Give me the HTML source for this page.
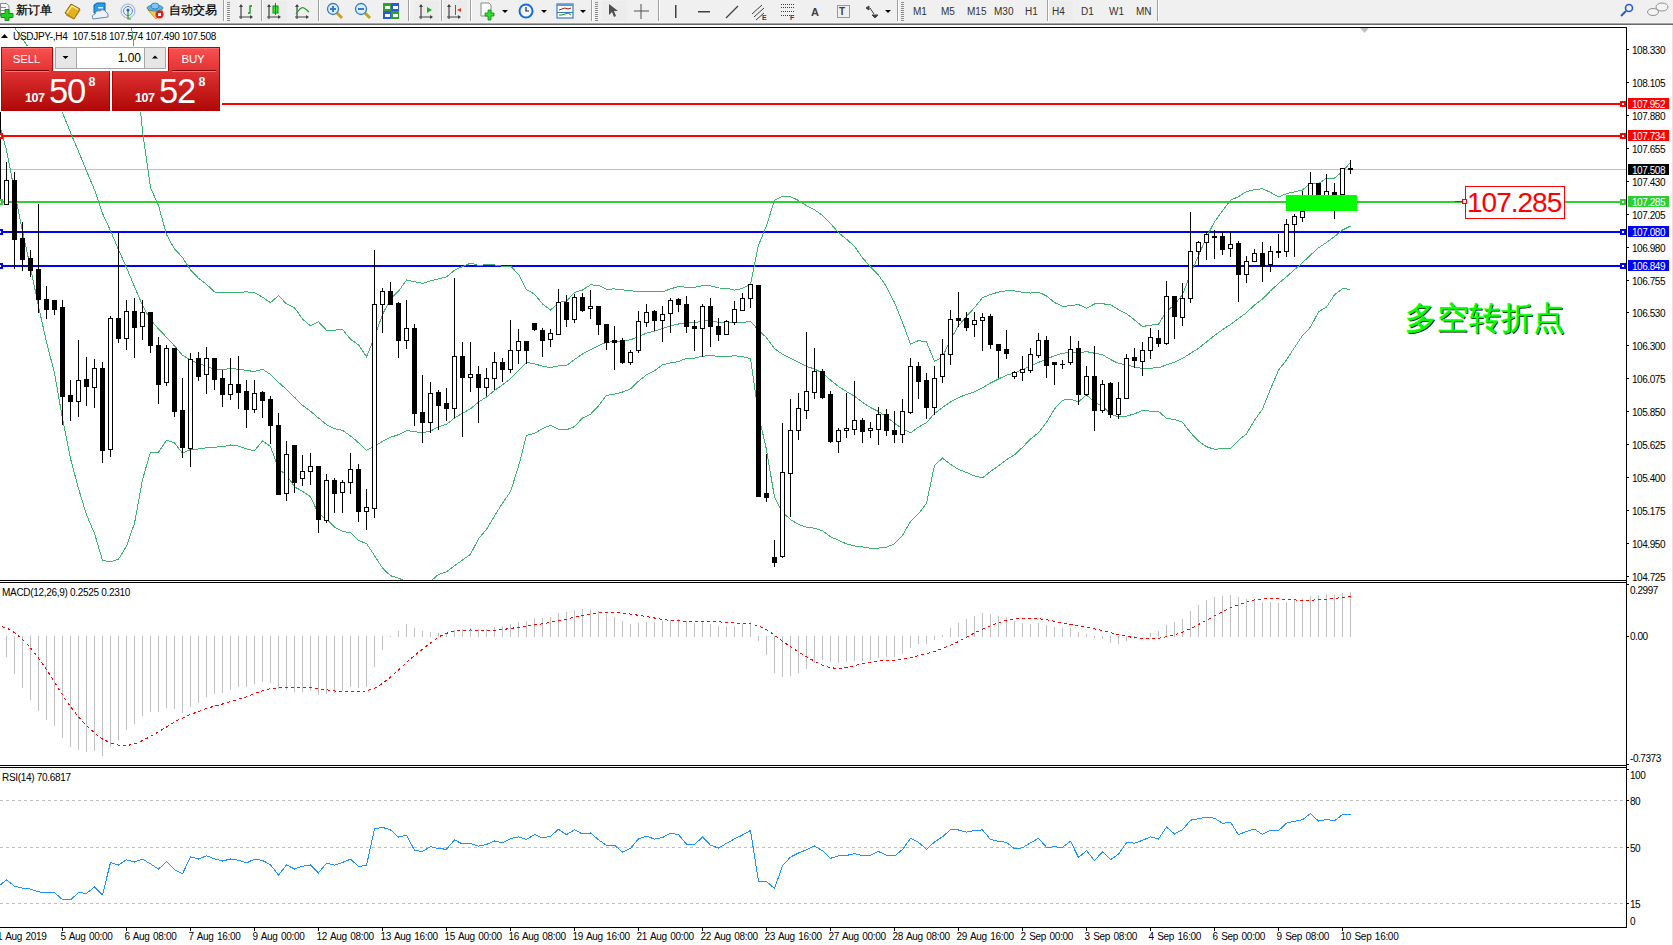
<!DOCTYPE html><html><head><meta charset="utf-8"><style>
html,body{margin:0;padding:0;width:1673px;height:945px;overflow:hidden;background:#fff;}
body{position:relative;font-family:"Liberation Sans",sans-serif;}
.a{position:absolute;white-space:nowrap;line-height:1;}
</style></head><body>

<svg width="1673" height="945" viewBox="0 0 1673 945" style="position:absolute;left:0;top:0" shape-rendering="crispEdges">
<rect x="1672" y="24" width="1" height="921" fill="#e4e4e4"/>
<rect x="0" y="27" width="1627" height="1" fill="#000"/>
<rect x="1626" y="27" width="1" height="901" fill="#000"/>
<rect x="0" y="580" width="1627" height="1" fill="#000"/>
<rect x="0" y="582" width="1627" height="1" fill="#000"/>
<rect x="0" y="765" width="1627" height="1" fill="#000"/>
<rect x="0" y="767" width="1627" height="1" fill="#000"/>
<rect x="0" y="927" width="1627" height="1" fill="#000"/>
<defs><clipPath id="cm"><rect x="0" y="28" width="1626" height="552"/></clipPath><clipPath id="cd"><rect x="0" y="583" width="1626" height="182"/></clipPath><clipPath id="cr"><rect x="0" y="768" width="1626" height="159"/></clipPath></defs>
<rect x="1627" y="49" width="2" height="1" fill="#000"/>
<rect x="1627" y="82" width="2" height="1" fill="#000"/>
<rect x="1627" y="115" width="2" height="1" fill="#000"/>
<rect x="1627" y="148" width="2" height="1" fill="#000"/>
<rect x="1627" y="181" width="2" height="1" fill="#000"/>
<rect x="1627" y="214" width="2" height="1" fill="#000"/>
<rect x="1627" y="247" width="2" height="1" fill="#000"/>
<rect x="1627" y="280" width="2" height="1" fill="#000"/>
<rect x="1627" y="312" width="2" height="1" fill="#000"/>
<rect x="1627" y="345" width="2" height="1" fill="#000"/>
<rect x="1627" y="378" width="2" height="1" fill="#000"/>
<rect x="1627" y="411" width="2" height="1" fill="#000"/>
<rect x="1627" y="444" width="2" height="1" fill="#000"/>
<rect x="1627" y="477" width="2" height="1" fill="#000"/>
<rect x="1627" y="510" width="2" height="1" fill="#000"/>
<rect x="1627" y="543" width="2" height="1" fill="#000"/>
<rect x="1627" y="576" width="2" height="1" fill="#000"/>
<rect x="1627" y="584" width="2" height="1" fill="#000"/>
<rect x="1627" y="636" width="2" height="1" fill="#000"/>
<rect x="1627" y="764" width="2" height="1" fill="#000"/>
<rect x="1627" y="769" width="2" height="1" fill="#000"/>
<rect x="1627" y="800" width="2" height="1" fill="#000"/>
<rect x="1627" y="847" width="2" height="1" fill="#000"/>
<rect x="1627" y="903" width="2" height="1" fill="#000"/>
<g clip-path="url(#cm)">
<rect x="0" y="169" width="1626" height="1" fill="#c0c0c0"/>
<rect x="0" y="103" width="1626" height="2" fill="#ff0000"/>
<rect x="0" y="135" width="1626" height="2" fill="#ff0000"/>
<rect x="0" y="201" width="1626" height="2" fill="#32cd32"/>
<rect x="0" y="231" width="1626" height="2" fill="#0000ff"/>
<rect x="0" y="265" width="1626" height="2" fill="#0000ff"/>
<polyline points="-9.5,3.8 -1.5,10.9 6.5,17.7 14.5,27.6 22.5,38.8 30.5,50.8 38.5,64.5 46.5,78.9 54.5,93.5 62.5,112.8 70.5,132.5 78.5,151.4 86.5,170.8 94.5,189.8 102.5,213.4 110.5,230.8 118.5,249.6 126.5,267.6 134.5,286.7 142.5,305.4 150.5,319.8 158.5,328.9 166.5,337.3 174.5,345.9 182.5,355.3 190.5,359.8 198.5,363.6 206.5,366.0 214.5,369.5 222.5,369.5 230.5,368.6 238.5,369.2 246.5,370.4 254.5,371.6 262.5,369.1 270.5,374.5 278.5,382.3 286.5,389.5 294.5,397.2 302.5,405.2 310.5,411.2 318.5,418.0 326.5,424.6 334.5,428.7 342.5,430.4 350.5,435.9 358.5,442.7 366.5,450.2 374.5,446.4 382.5,441.3 390.5,437.3 398.5,434.7 406.5,430.6 414.5,431.6 422.5,432.7 430.5,431.1 438.5,426.7 446.5,424.4 454.5,418.0 462.5,413.3 470.5,408.7 478.5,402.1 486.5,397.0 494.5,390.5 502.5,384.8 510.5,378.8 518.5,370.4 526.5,362.5 534.5,363.8 542.5,366.2 550.5,367.7 558.5,365.8 566.5,365.4 574.5,359.6 582.5,354.0 590.5,349.6 598.5,345.6 606.5,342.3 614.5,341.6 622.5,340.9 630.5,339.8 638.5,336.5 646.5,333.2 654.5,331.1 662.5,328.4 670.5,325.9 678.5,324.0 686.5,322.8 694.5,322.7 702.5,321.0 710.5,320.7 718.5,322.2 726.5,322.4 734.5,323.0 742.5,322.4 750.5,321.4 758.5,330.0 766.5,337.7 774.5,348.7 782.5,354.2 790.5,358.1 798.5,362.4 806.5,366.4 814.5,369.0 822.5,373.1 830.5,380.1 838.5,386.5 846.5,391.5 854.5,396.2 862.5,402.4 870.5,407.5 878.5,411.5 886.5,416.9 894.5,423.2 902.5,428.8 910.5,432.9 918.5,427.1 926.5,422.6 934.5,413.4 942.5,407.5 950.5,402.0 958.5,397.6 966.5,394.4 974.5,391.8 982.5,387.8 990.5,383.0 998.5,379.0 1006.5,375.2 1014.5,372.9 1022.5,369.8 1030.5,366.1 1038.5,362.4 1046.5,359.2 1054.5,355.7 1062.5,353.3 1070.5,352.5 1078.5,353.2 1086.5,351.6 1094.5,353.2 1102.5,354.7 1110.5,359.5 1118.5,363.4 1126.5,364.9 1134.5,366.9 1142.5,368.5 1150.5,368.1 1158.5,367.8 1166.5,364.9 1174.5,362.1 1182.5,358.5 1190.5,353.3 1198.5,348.4 1206.5,341.9 1214.5,335.5 1222.5,329.7 1230.5,324.5 1238.5,318.5 1246.5,312.7 1254.5,304.9 1262.5,299.0 1270.5,290.8 1278.5,283.5 1286.5,276.8 1294.5,269.7 1302.5,262.7 1310.5,255.0 1318.5,247.8 1326.5,242.6 1334.5,236.5 1342.5,230.0 1350.5,226.0" fill="none" stroke="#3cb371" stroke-width="1" shape-rendering="crispEdges"/>
<polyline points="-9.5,-68.3 -1.5,-99.6 6.5,-114.7 14.5,-136.1 22.5,-153.5 30.5,-166.1 38.5,-177.4 46.5,-184.2 54.5,-186.0 62.5,-193.1 70.5,-193.6 78.5,-185.8 86.5,-173.2 94.5,-153.7 102.5,-133.6 110.5,-100.2 118.5,-60.0 126.5,-11.0 134.5,50.0 142.5,131.1 150.5,187.5 158.5,205.5 166.5,234.5 174.5,248.9 182.5,257.4 190.5,270.0 198.5,278.2 206.5,284.3 214.5,292.0 222.5,292.1 230.5,292.2 238.5,292.3 246.5,291.9 254.5,292.5 262.5,297.2 270.5,302.7 278.5,295.6 286.5,303.9 294.5,307.7 302.5,319.0 310.5,325.9 318.5,321.7 326.5,330.3 334.5,330.1 342.5,329.4 350.5,339.2 358.5,344.9 366.5,356.8 374.5,337.2 382.5,314.5 390.5,298.9 398.5,291.2 406.5,280.0 414.5,281.7 422.5,283.4 430.5,280.9 438.5,278.9 446.5,276.9 454.5,270.2 462.5,266.6 470.5,263.1 478.5,265.4 486.5,264.7 494.5,265.0 502.5,266.3 510.5,266.1 518.5,274.3 526.5,289.6 534.5,294.1 542.5,303.9 550.5,310.1 558.5,302.6 566.5,301.0 574.5,292.5 582.5,290.0 590.5,284.9 598.5,285.3 606.5,289.3 614.5,288.9 622.5,289.8 630.5,290.7 638.5,291.8 646.5,291.6 654.5,291.3 662.5,291.9 670.5,288.9 678.5,286.5 686.5,287.3 694.5,287.3 702.5,285.8 710.5,285.8 718.5,288.0 726.5,288.1 734.5,290.2 742.5,288.4 750.5,284.1 758.5,245.1 766.5,225.8 774.5,200.1 782.5,196.1 790.5,196.6 798.5,200.5 806.5,205.7 814.5,209.7 822.5,215.4 830.5,223.6 838.5,232.6 846.5,239.2 854.5,246.3 862.5,257.8 870.5,266.8 878.5,275.0 886.5,286.7 894.5,302.6 902.5,322.4 910.5,344.1 918.5,340.6 926.5,341.9 934.5,361.5 942.5,356.9 950.5,339.6 958.5,325.8 966.5,316.2 974.5,307.7 982.5,297.7 990.5,294.5 998.5,292.1 1006.5,290.7 1014.5,290.9 1022.5,292.2 1030.5,293.1 1038.5,292.1 1046.5,296.0 1054.5,302.5 1062.5,306.3 1070.5,305.8 1078.5,304.5 1086.5,308.2 1094.5,304.0 1102.5,303.7 1110.5,304.9 1118.5,309.6 1126.5,313.7 1134.5,319.9 1142.5,326.5 1150.5,325.2 1158.5,324.2 1166.5,311.5 1174.5,304.7 1182.5,294.7 1190.5,274.1 1198.5,255.6 1206.5,237.1 1214.5,221.8 1222.5,210.9 1230.5,200.3 1238.5,196.7 1246.5,191.5 1254.5,189.7 1262.5,188.7 1270.5,192.4 1278.5,196.9 1286.5,193.7 1294.5,191.8 1302.5,190.0 1310.5,182.9 1318.5,183.8 1326.5,178.1 1334.5,178.1 1342.5,171.5 1350.5,162.5" fill="none" stroke="#3cb371" stroke-width="1" shape-rendering="crispEdges"/>
<polyline points="-9.5,76.0 -1.5,121.4 6.5,150.0 14.5,191.4 22.5,231.1 30.5,267.8 38.5,306.3 46.5,342.0 54.5,373.1 62.5,418.6 70.5,458.6 78.5,488.5 86.5,514.9 94.5,533.4 102.5,560.4 110.5,561.8 118.5,559.2 126.5,546.1 134.5,523.3 142.5,479.7 150.5,452.1 158.5,452.3 166.5,440.1 174.5,442.9 182.5,453.2 190.5,449.5 198.5,449.0 206.5,447.8 214.5,447.1 222.5,446.8 230.5,445.0 238.5,446.1 246.5,448.9 254.5,450.7 262.5,441.0 270.5,446.3 278.5,469.0 286.5,475.0 294.5,486.8 302.5,491.3 310.5,496.6 318.5,514.2 326.5,518.8 334.5,527.2 342.5,531.4 350.5,532.7 358.5,540.5 366.5,543.5 374.5,555.6 382.5,568.1 390.5,575.7 398.5,578.2 406.5,581.3 414.5,581.5 422.5,582.0 430.5,581.4 438.5,574.4 446.5,571.8 454.5,565.8 462.5,560.0 470.5,554.3 478.5,538.9 486.5,529.3 494.5,515.9 502.5,503.3 510.5,491.6 518.5,466.4 526.5,435.5 534.5,433.4 542.5,428.6 550.5,425.3 558.5,429.1 566.5,429.8 574.5,426.6 582.5,418.0 590.5,414.3 598.5,405.8 606.5,395.3 614.5,394.2 622.5,392.0 630.5,388.9 638.5,381.2 646.5,374.8 654.5,370.9 662.5,364.8 670.5,362.9 678.5,361.5 686.5,358.3 694.5,358.2 702.5,356.2 710.5,355.5 718.5,356.5 726.5,356.6 734.5,355.8 742.5,356.5 750.5,358.6 758.5,414.8 766.5,449.6 774.5,497.3 782.5,512.2 790.5,519.5 798.5,524.4 806.5,527.1 814.5,528.2 822.5,530.7 830.5,536.7 838.5,540.3 846.5,543.9 854.5,546.0 862.5,547.0 870.5,548.2 878.5,548.1 886.5,547.2 894.5,543.8 902.5,535.3 910.5,521.7 918.5,513.7 926.5,503.3 934.5,465.3 942.5,458.1 950.5,464.4 958.5,469.4 966.5,472.5 974.5,475.9 982.5,477.9 990.5,471.5 998.5,465.8 1006.5,459.7 1014.5,454.8 1022.5,447.3 1030.5,439.1 1038.5,432.7 1046.5,422.3 1054.5,408.9 1062.5,400.3 1070.5,399.1 1078.5,401.8 1086.5,394.9 1094.5,402.4 1102.5,405.7 1110.5,414.0 1118.5,417.1 1126.5,416.1 1134.5,413.9 1142.5,410.5 1150.5,411.1 1158.5,411.4 1166.5,418.3 1174.5,419.5 1182.5,422.3 1190.5,432.6 1198.5,441.2 1206.5,446.7 1214.5,449.3 1222.5,448.6 1230.5,448.7 1238.5,440.2 1246.5,433.9 1254.5,420.1 1262.5,409.2 1270.5,389.2 1278.5,370.1 1286.5,359.9 1294.5,347.5 1302.5,335.5 1310.5,327.2 1318.5,311.8 1326.5,307.0 1334.5,294.9 1342.5,288.6 1350.5,289.4" fill="none" stroke="#3cb371" stroke-width="1" shape-rendering="crispEdges"/>
<rect x="-2" y="112" width="1" height="91" fill="#000"/>
<rect x="-4" y="112" width="5" height="91" fill="#000"/>
<rect x="6" y="162" width="1" height="43" fill="#000"/>
<rect x="4" y="180" width="5" height="25" fill="#000"/>
<rect x="5" y="181" width="3" height="23" fill="#fff"/>
<rect x="14" y="172" width="1" height="97" fill="#000"/>
<rect x="12" y="180" width="5" height="60" fill="#000"/>
<rect x="22" y="222" width="1" height="49" fill="#000"/>
<rect x="20" y="238" width="5" height="22" fill="#000"/>
<rect x="30" y="250" width="1" height="27" fill="#000"/>
<rect x="28" y="258" width="5" height="13" fill="#000"/>
<rect x="38" y="204" width="1" height="109" fill="#000"/>
<rect x="36" y="269" width="5" height="31" fill="#000"/>
<rect x="46" y="286" width="1" height="33" fill="#000"/>
<rect x="44" y="299" width="5" height="11" fill="#000"/>
<rect x="54" y="300" width="1" height="15" fill="#000"/>
<rect x="52" y="300" width="5" height="10" fill="#000"/>
<rect x="62" y="300" width="1" height="125" fill="#000"/>
<rect x="60" y="307" width="5" height="90" fill="#000"/>
<rect x="70" y="380" width="1" height="41" fill="#000"/>
<rect x="68" y="395" width="5" height="7" fill="#000"/>
<rect x="78" y="340" width="1" height="77" fill="#000"/>
<rect x="76" y="380" width="5" height="22" fill="#000"/>
<rect x="77" y="381" width="3" height="20" fill="#fff"/>
<rect x="86" y="357" width="1" height="49" fill="#000"/>
<rect x="84" y="379" width="5" height="8" fill="#000"/>
<rect x="94" y="359" width="1" height="49" fill="#000"/>
<rect x="92" y="368" width="5" height="20" fill="#000"/>
<rect x="93" y="369" width="3" height="18" fill="#fff"/>
<rect x="102" y="362" width="1" height="101" fill="#000"/>
<rect x="100" y="368" width="5" height="83" fill="#000"/>
<rect x="110" y="316" width="1" height="141" fill="#000"/>
<rect x="108" y="318" width="5" height="132" fill="#000"/>
<rect x="109" y="319" width="3" height="130" fill="#fff"/>
<rect x="118" y="233" width="1" height="110" fill="#000"/>
<rect x="116" y="318" width="5" height="21" fill="#000"/>
<rect x="126" y="300" width="1" height="50" fill="#000"/>
<rect x="124" y="311" width="5" height="28" fill="#000"/>
<rect x="125" y="312" width="3" height="26" fill="#fff"/>
<rect x="134" y="298" width="1" height="60" fill="#000"/>
<rect x="132" y="311" width="5" height="17" fill="#000"/>
<rect x="142" y="300" width="1" height="40" fill="#000"/>
<rect x="140" y="312" width="5" height="15" fill="#000"/>
<rect x="141" y="313" width="3" height="13" fill="#fff"/>
<rect x="150" y="312" width="1" height="41" fill="#000"/>
<rect x="148" y="312" width="5" height="34" fill="#000"/>
<rect x="158" y="337" width="1" height="67" fill="#000"/>
<rect x="156" y="345" width="5" height="40" fill="#000"/>
<rect x="166" y="345" width="1" height="41" fill="#000"/>
<rect x="164" y="348" width="5" height="35" fill="#000"/>
<rect x="165" y="349" width="3" height="33" fill="#fff"/>
<rect x="174" y="348" width="1" height="69" fill="#000"/>
<rect x="172" y="348" width="5" height="64" fill="#000"/>
<rect x="182" y="378" width="1" height="80" fill="#000"/>
<rect x="180" y="410" width="5" height="38" fill="#000"/>
<rect x="190" y="353" width="1" height="114" fill="#000"/>
<rect x="188" y="359" width="5" height="90" fill="#000"/>
<rect x="189" y="360" width="3" height="88" fill="#fff"/>
<rect x="198" y="352" width="1" height="29" fill="#000"/>
<rect x="196" y="358" width="5" height="19" fill="#000"/>
<rect x="206" y="347" width="1" height="47" fill="#000"/>
<rect x="204" y="358" width="5" height="17" fill="#000"/>
<rect x="205" y="359" width="3" height="15" fill="#fff"/>
<rect x="214" y="358" width="1" height="32" fill="#000"/>
<rect x="212" y="358" width="5" height="22" fill="#000"/>
<rect x="222" y="370" width="1" height="37" fill="#000"/>
<rect x="220" y="378" width="5" height="17" fill="#000"/>
<rect x="230" y="358" width="1" height="42" fill="#000"/>
<rect x="228" y="384" width="5" height="11" fill="#000"/>
<rect x="229" y="385" width="3" height="9" fill="#fff"/>
<rect x="238" y="356" width="1" height="53" fill="#000"/>
<rect x="236" y="384" width="5" height="9" fill="#000"/>
<rect x="246" y="380" width="1" height="48" fill="#000"/>
<rect x="244" y="391" width="5" height="19" fill="#000"/>
<rect x="254" y="380" width="1" height="33" fill="#000"/>
<rect x="252" y="393" width="5" height="17" fill="#000"/>
<rect x="253" y="394" width="3" height="15" fill="#fff"/>
<rect x="262" y="391" width="1" height="27" fill="#000"/>
<rect x="260" y="392" width="5" height="9" fill="#000"/>
<rect x="270" y="396" width="1" height="48" fill="#000"/>
<rect x="268" y="399" width="5" height="27" fill="#000"/>
<rect x="278" y="413" width="1" height="82" fill="#000"/>
<rect x="276" y="425" width="5" height="70" fill="#000"/>
<rect x="286" y="441" width="1" height="60" fill="#000"/>
<rect x="284" y="454" width="5" height="40" fill="#000"/>
<rect x="285" y="455" width="3" height="38" fill="#fff"/>
<rect x="294" y="445" width="1" height="48" fill="#000"/>
<rect x="292" y="445" width="5" height="38" fill="#000"/>
<rect x="302" y="455" width="1" height="31" fill="#000"/>
<rect x="300" y="471" width="5" height="8" fill="#000"/>
<rect x="301" y="472" width="3" height="6" fill="#fff"/>
<rect x="310" y="453" width="1" height="32" fill="#000"/>
<rect x="308" y="466" width="5" height="6" fill="#000"/>
<rect x="309" y="467" width="3" height="4" fill="#fff"/>
<rect x="318" y="466" width="1" height="67" fill="#000"/>
<rect x="316" y="466" width="5" height="54" fill="#000"/>
<rect x="326" y="474" width="1" height="49" fill="#000"/>
<rect x="324" y="480" width="5" height="41" fill="#000"/>
<rect x="325" y="481" width="3" height="39" fill="#fff"/>
<rect x="334" y="478" width="1" height="35" fill="#000"/>
<rect x="332" y="480" width="5" height="14" fill="#000"/>
<rect x="342" y="480" width="1" height="33" fill="#000"/>
<rect x="340" y="482" width="5" height="11" fill="#000"/>
<rect x="341" y="483" width="3" height="9" fill="#fff"/>
<rect x="350" y="453" width="1" height="41" fill="#000"/>
<rect x="348" y="469" width="5" height="14" fill="#000"/>
<rect x="349" y="470" width="3" height="12" fill="#fff"/>
<rect x="358" y="464" width="1" height="58" fill="#000"/>
<rect x="356" y="469" width="5" height="43" fill="#000"/>
<rect x="366" y="489" width="1" height="41" fill="#000"/>
<rect x="364" y="507" width="5" height="5" fill="#000"/>
<rect x="365" y="508" width="3" height="3" fill="#fff"/>
<rect x="374" y="250" width="1" height="268" fill="#000"/>
<rect x="372" y="304" width="5" height="205" fill="#000"/>
<rect x="373" y="305" width="3" height="203" fill="#fff"/>
<rect x="382" y="288" width="1" height="45" fill="#000"/>
<rect x="380" y="291" width="5" height="14" fill="#000"/>
<rect x="381" y="292" width="3" height="12" fill="#fff"/>
<rect x="390" y="282" width="1" height="23" fill="#000"/>
<rect x="388" y="291" width="5" height="14" fill="#000"/>
<rect x="398" y="302" width="1" height="56" fill="#000"/>
<rect x="396" y="303" width="5" height="38" fill="#000"/>
<rect x="406" y="300" width="1" height="49" fill="#000"/>
<rect x="404" y="328" width="5" height="13" fill="#000"/>
<rect x="405" y="329" width="3" height="11" fill="#fff"/>
<rect x="414" y="324" width="1" height="102" fill="#000"/>
<rect x="412" y="328" width="5" height="86" fill="#000"/>
<rect x="422" y="375" width="1" height="68" fill="#000"/>
<rect x="420" y="412" width="5" height="11" fill="#000"/>
<rect x="430" y="382" width="1" height="51" fill="#000"/>
<rect x="428" y="393" width="5" height="30" fill="#000"/>
<rect x="429" y="394" width="3" height="28" fill="#fff"/>
<rect x="438" y="390" width="1" height="40" fill="#000"/>
<rect x="436" y="392" width="5" height="14" fill="#000"/>
<rect x="446" y="388" width="1" height="33" fill="#000"/>
<rect x="444" y="403" width="5" height="6" fill="#000"/>
<rect x="454" y="278" width="1" height="140" fill="#000"/>
<rect x="452" y="356" width="5" height="53" fill="#000"/>
<rect x="453" y="357" width="3" height="51" fill="#fff"/>
<rect x="462" y="342" width="1" height="95" fill="#000"/>
<rect x="460" y="356" width="5" height="22" fill="#000"/>
<rect x="470" y="342" width="1" height="50" fill="#000"/>
<rect x="468" y="374" width="5" height="4" fill="#000"/>
<rect x="469" y="375" width="3" height="2" fill="#fff"/>
<rect x="478" y="366" width="1" height="57" fill="#000"/>
<rect x="476" y="374" width="5" height="14" fill="#000"/>
<rect x="486" y="368" width="1" height="28" fill="#000"/>
<rect x="484" y="378" width="5" height="10" fill="#000"/>
<rect x="485" y="379" width="3" height="8" fill="#fff"/>
<rect x="494" y="352" width="1" height="38" fill="#000"/>
<rect x="492" y="362" width="5" height="17" fill="#000"/>
<rect x="493" y="363" width="3" height="15" fill="#fff"/>
<rect x="502" y="358" width="1" height="24" fill="#000"/>
<rect x="500" y="362" width="5" height="8" fill="#000"/>
<rect x="510" y="320" width="1" height="53" fill="#000"/>
<rect x="508" y="350" width="5" height="20" fill="#000"/>
<rect x="509" y="351" width="3" height="18" fill="#fff"/>
<rect x="518" y="329" width="1" height="35" fill="#000"/>
<rect x="516" y="341" width="5" height="10" fill="#000"/>
<rect x="517" y="342" width="3" height="8" fill="#fff"/>
<rect x="526" y="341" width="1" height="23" fill="#000"/>
<rect x="524" y="341" width="5" height="10" fill="#000"/>
<rect x="534" y="323" width="1" height="8" fill="#000"/>
<rect x="532" y="323" width="5" height="7" fill="#000"/>
<rect x="542" y="328" width="1" height="29" fill="#000"/>
<rect x="540" y="330" width="5" height="11" fill="#000"/>
<rect x="550" y="329" width="1" height="18" fill="#000"/>
<rect x="548" y="333" width="5" height="7" fill="#000"/>
<rect x="549" y="334" width="3" height="5" fill="#fff"/>
<rect x="558" y="289" width="1" height="46" fill="#000"/>
<rect x="556" y="302" width="5" height="33" fill="#000"/>
<rect x="557" y="303" width="3" height="31" fill="#fff"/>
<rect x="566" y="295" width="1" height="32" fill="#000"/>
<rect x="564" y="302" width="5" height="18" fill="#000"/>
<rect x="574" y="294" width="1" height="29" fill="#000"/>
<rect x="572" y="297" width="5" height="23" fill="#000"/>
<rect x="573" y="298" width="3" height="21" fill="#fff"/>
<rect x="582" y="293" width="1" height="19" fill="#000"/>
<rect x="580" y="297" width="5" height="14" fill="#000"/>
<rect x="590" y="290" width="1" height="29" fill="#000"/>
<rect x="588" y="306" width="5" height="3" fill="#000"/>
<rect x="589" y="307" width="3" height="1" fill="#fff"/>
<rect x="598" y="306" width="1" height="29" fill="#000"/>
<rect x="596" y="306" width="5" height="19" fill="#000"/>
<rect x="606" y="324" width="1" height="26" fill="#000"/>
<rect x="604" y="324" width="5" height="19" fill="#000"/>
<rect x="614" y="326" width="1" height="44" fill="#000"/>
<rect x="612" y="340" width="5" height="3" fill="#000"/>
<rect x="622" y="338" width="1" height="26" fill="#000"/>
<rect x="620" y="340" width="5" height="23" fill="#000"/>
<rect x="630" y="350" width="1" height="15" fill="#000"/>
<rect x="628" y="352" width="5" height="11" fill="#000"/>
<rect x="629" y="353" width="3" height="9" fill="#fff"/>
<rect x="638" y="311" width="1" height="42" fill="#000"/>
<rect x="636" y="321" width="5" height="30" fill="#000"/>
<rect x="637" y="322" width="3" height="28" fill="#fff"/>
<rect x="646" y="304" width="1" height="23" fill="#000"/>
<rect x="644" y="312" width="5" height="11" fill="#000"/>
<rect x="645" y="313" width="3" height="9" fill="#fff"/>
<rect x="654" y="310" width="1" height="21" fill="#000"/>
<rect x="652" y="311" width="5" height="10" fill="#000"/>
<rect x="662" y="306" width="1" height="36" fill="#000"/>
<rect x="660" y="314" width="5" height="7" fill="#000"/>
<rect x="661" y="315" width="3" height="5" fill="#fff"/>
<rect x="670" y="298" width="1" height="35" fill="#000"/>
<rect x="668" y="300" width="5" height="14" fill="#000"/>
<rect x="669" y="301" width="3" height="12" fill="#fff"/>
<rect x="678" y="298" width="1" height="14" fill="#000"/>
<rect x="676" y="299" width="5" height="6" fill="#000"/>
<rect x="686" y="296" width="1" height="37" fill="#000"/>
<rect x="684" y="304" width="5" height="23" fill="#000"/>
<rect x="694" y="320" width="1" height="31" fill="#000"/>
<rect x="692" y="326" width="5" height="3" fill="#000"/>
<rect x="702" y="304" width="1" height="53" fill="#000"/>
<rect x="700" y="306" width="5" height="23" fill="#000"/>
<rect x="701" y="307" width="3" height="21" fill="#fff"/>
<rect x="710" y="298" width="1" height="49" fill="#000"/>
<rect x="708" y="306" width="5" height="21" fill="#000"/>
<rect x="718" y="318" width="1" height="23" fill="#000"/>
<rect x="716" y="326" width="5" height="9" fill="#000"/>
<rect x="726" y="320" width="1" height="15" fill="#000"/>
<rect x="724" y="321" width="5" height="14" fill="#000"/>
<rect x="725" y="322" width="3" height="12" fill="#fff"/>
<rect x="734" y="301" width="1" height="24" fill="#000"/>
<rect x="732" y="309" width="5" height="14" fill="#000"/>
<rect x="733" y="310" width="3" height="12" fill="#fff"/>
<rect x="742" y="293" width="1" height="18" fill="#000"/>
<rect x="740" y="298" width="5" height="13" fill="#000"/>
<rect x="741" y="299" width="3" height="11" fill="#fff"/>
<rect x="750" y="284" width="1" height="24" fill="#000"/>
<rect x="748" y="284" width="5" height="15" fill="#000"/>
<rect x="749" y="285" width="3" height="13" fill="#fff"/>
<rect x="758" y="285" width="1" height="212" fill="#000"/>
<rect x="756" y="285" width="5" height="212" fill="#000"/>
<rect x="766" y="454" width="1" height="48" fill="#000"/>
<rect x="764" y="493" width="5" height="5" fill="#000"/>
<rect x="774" y="540" width="1" height="27" fill="#000"/>
<rect x="772" y="557" width="5" height="6" fill="#000"/>
<rect x="782" y="423" width="1" height="135" fill="#000"/>
<rect x="780" y="472" width="5" height="85" fill="#000"/>
<rect x="781" y="473" width="3" height="83" fill="#fff"/>
<rect x="790" y="399" width="1" height="118" fill="#000"/>
<rect x="788" y="430" width="5" height="44" fill="#000"/>
<rect x="789" y="431" width="3" height="42" fill="#fff"/>
<rect x="798" y="393" width="1" height="47" fill="#000"/>
<rect x="796" y="408" width="5" height="23" fill="#000"/>
<rect x="797" y="409" width="3" height="21" fill="#fff"/>
<rect x="806" y="332" width="1" height="87" fill="#000"/>
<rect x="804" y="391" width="5" height="20" fill="#000"/>
<rect x="805" y="392" width="3" height="18" fill="#fff"/>
<rect x="814" y="348" width="1" height="51" fill="#000"/>
<rect x="812" y="371" width="5" height="22" fill="#000"/>
<rect x="813" y="372" width="3" height="20" fill="#fff"/>
<rect x="822" y="369" width="1" height="30" fill="#000"/>
<rect x="820" y="371" width="5" height="27" fill="#000"/>
<rect x="830" y="391" width="1" height="52" fill="#000"/>
<rect x="828" y="394" width="5" height="48" fill="#000"/>
<rect x="838" y="428" width="1" height="25" fill="#000"/>
<rect x="836" y="430" width="5" height="12" fill="#000"/>
<rect x="837" y="431" width="3" height="10" fill="#fff"/>
<rect x="846" y="393" width="1" height="45" fill="#000"/>
<rect x="844" y="428" width="5" height="3" fill="#000"/>
<rect x="845" y="429" width="3" height="1" fill="#fff"/>
<rect x="854" y="381" width="1" height="54" fill="#000"/>
<rect x="852" y="420" width="5" height="10" fill="#000"/>
<rect x="853" y="421" width="3" height="8" fill="#fff"/>
<rect x="862" y="418" width="1" height="25" fill="#000"/>
<rect x="860" y="420" width="5" height="12" fill="#000"/>
<rect x="870" y="422" width="1" height="16" fill="#000"/>
<rect x="868" y="428" width="5" height="3" fill="#000"/>
<rect x="869" y="429" width="3" height="1" fill="#fff"/>
<rect x="878" y="407" width="1" height="38" fill="#000"/>
<rect x="876" y="414" width="5" height="16" fill="#000"/>
<rect x="877" y="415" width="3" height="14" fill="#fff"/>
<rect x="886" y="409" width="1" height="27" fill="#000"/>
<rect x="884" y="414" width="5" height="17" fill="#000"/>
<rect x="894" y="411" width="1" height="32" fill="#000"/>
<rect x="892" y="430" width="5" height="5" fill="#000"/>
<rect x="902" y="399" width="1" height="44" fill="#000"/>
<rect x="900" y="411" width="5" height="24" fill="#000"/>
<rect x="901" y="412" width="3" height="22" fill="#fff"/>
<rect x="910" y="358" width="1" height="56" fill="#000"/>
<rect x="908" y="366" width="5" height="47" fill="#000"/>
<rect x="909" y="367" width="3" height="45" fill="#fff"/>
<rect x="918" y="362" width="1" height="37" fill="#000"/>
<rect x="916" y="366" width="5" height="16" fill="#000"/>
<rect x="926" y="373" width="1" height="46" fill="#000"/>
<rect x="924" y="380" width="5" height="28" fill="#000"/>
<rect x="934" y="366" width="1" height="49" fill="#000"/>
<rect x="932" y="378" width="5" height="30" fill="#000"/>
<rect x="933" y="379" width="3" height="28" fill="#fff"/>
<rect x="942" y="339" width="1" height="44" fill="#000"/>
<rect x="940" y="354" width="5" height="23" fill="#000"/>
<rect x="941" y="355" width="3" height="21" fill="#fff"/>
<rect x="950" y="310" width="1" height="55" fill="#000"/>
<rect x="948" y="319" width="5" height="36" fill="#000"/>
<rect x="949" y="320" width="3" height="34" fill="#fff"/>
<rect x="958" y="292" width="1" height="35" fill="#000"/>
<rect x="956" y="318" width="5" height="3" fill="#000"/>
<rect x="966" y="312" width="1" height="19" fill="#000"/>
<rect x="964" y="318" width="5" height="10" fill="#000"/>
<rect x="974" y="312" width="1" height="25" fill="#000"/>
<rect x="972" y="320" width="5" height="5" fill="#000"/>
<rect x="973" y="321" width="3" height="3" fill="#fff"/>
<rect x="982" y="313" width="1" height="38" fill="#000"/>
<rect x="980" y="317" width="5" height="4" fill="#000"/>
<rect x="981" y="318" width="3" height="2" fill="#fff"/>
<rect x="990" y="314" width="1" height="35" fill="#000"/>
<rect x="988" y="316" width="5" height="29" fill="#000"/>
<rect x="998" y="344" width="1" height="34" fill="#000"/>
<rect x="996" y="344" width="5" height="7" fill="#000"/>
<rect x="1006" y="330" width="1" height="29" fill="#000"/>
<rect x="1004" y="349" width="5" height="5" fill="#000"/>
<rect x="1014" y="371" width="1" height="8" fill="#000"/>
<rect x="1012" y="372" width="5" height="5" fill="#000"/>
<rect x="1013" y="373" width="3" height="3" fill="#fff"/>
<rect x="1022" y="356" width="1" height="25" fill="#000"/>
<rect x="1020" y="369" width="5" height="4" fill="#000"/>
<rect x="1021" y="370" width="3" height="2" fill="#fff"/>
<rect x="1030" y="348" width="1" height="25" fill="#000"/>
<rect x="1028" y="354" width="5" height="17" fill="#000"/>
<rect x="1029" y="355" width="3" height="15" fill="#fff"/>
<rect x="1038" y="333" width="1" height="25" fill="#000"/>
<rect x="1036" y="340" width="5" height="16" fill="#000"/>
<rect x="1037" y="341" width="3" height="14" fill="#fff"/>
<rect x="1046" y="336" width="1" height="42" fill="#000"/>
<rect x="1044" y="340" width="5" height="26" fill="#000"/>
<rect x="1054" y="362" width="1" height="23" fill="#000"/>
<rect x="1052" y="362" width="5" height="3" fill="#000"/>
<rect x="1062" y="360" width="1" height="9" fill="#000"/>
<rect x="1060" y="364" width="5" height="1" fill="#000"/>
<rect x="1070" y="336" width="1" height="29" fill="#000"/>
<rect x="1068" y="349" width="5" height="14" fill="#000"/>
<rect x="1069" y="350" width="3" height="12" fill="#fff"/>
<rect x="1078" y="341" width="1" height="64" fill="#000"/>
<rect x="1076" y="348" width="5" height="47" fill="#000"/>
<rect x="1086" y="366" width="1" height="30" fill="#000"/>
<rect x="1084" y="376" width="5" height="19" fill="#000"/>
<rect x="1085" y="377" width="3" height="17" fill="#fff"/>
<rect x="1094" y="346" width="1" height="85" fill="#000"/>
<rect x="1092" y="376" width="5" height="35" fill="#000"/>
<rect x="1102" y="380" width="1" height="33" fill="#000"/>
<rect x="1100" y="384" width="5" height="27" fill="#000"/>
<rect x="1101" y="385" width="3" height="25" fill="#fff"/>
<rect x="1110" y="382" width="1" height="36" fill="#000"/>
<rect x="1108" y="383" width="5" height="32" fill="#000"/>
<rect x="1118" y="382" width="1" height="37" fill="#000"/>
<rect x="1116" y="398" width="5" height="17" fill="#000"/>
<rect x="1117" y="399" width="3" height="15" fill="#fff"/>
<rect x="1126" y="354" width="1" height="45" fill="#000"/>
<rect x="1124" y="358" width="5" height="41" fill="#000"/>
<rect x="1125" y="359" width="3" height="39" fill="#fff"/>
<rect x="1134" y="348" width="1" height="20" fill="#000"/>
<rect x="1132" y="357" width="5" height="4" fill="#000"/>
<rect x="1142" y="342" width="1" height="34" fill="#000"/>
<rect x="1140" y="350" width="5" height="12" fill="#000"/>
<rect x="1141" y="351" width="3" height="10" fill="#fff"/>
<rect x="1150" y="328" width="1" height="31" fill="#000"/>
<rect x="1148" y="337" width="5" height="14" fill="#000"/>
<rect x="1149" y="338" width="3" height="12" fill="#fff"/>
<rect x="1158" y="330" width="1" height="17" fill="#000"/>
<rect x="1156" y="338" width="5" height="6" fill="#000"/>
<rect x="1166" y="281" width="1" height="64" fill="#000"/>
<rect x="1164" y="296" width="5" height="48" fill="#000"/>
<rect x="1165" y="297" width="3" height="46" fill="#fff"/>
<rect x="1174" y="296" width="1" height="43" fill="#000"/>
<rect x="1172" y="296" width="5" height="21" fill="#000"/>
<rect x="1182" y="283" width="1" height="43" fill="#000"/>
<rect x="1180" y="298" width="5" height="20" fill="#000"/>
<rect x="1181" y="299" width="3" height="18" fill="#fff"/>
<rect x="1190" y="212" width="1" height="91" fill="#000"/>
<rect x="1188" y="251" width="5" height="48" fill="#000"/>
<rect x="1189" y="252" width="3" height="46" fill="#fff"/>
<rect x="1198" y="241" width="1" height="24" fill="#000"/>
<rect x="1196" y="242" width="5" height="10" fill="#000"/>
<rect x="1197" y="243" width="3" height="8" fill="#fff"/>
<rect x="1206" y="231" width="1" height="29" fill="#000"/>
<rect x="1204" y="234" width="5" height="9" fill="#000"/>
<rect x="1205" y="235" width="3" height="7" fill="#fff"/>
<rect x="1214" y="230" width="1" height="29" fill="#000"/>
<rect x="1212" y="236" width="5" height="2" fill="#000"/>
<rect x="1222" y="232" width="1" height="23" fill="#000"/>
<rect x="1220" y="236" width="5" height="14" fill="#000"/>
<rect x="1230" y="232" width="1" height="25" fill="#000"/>
<rect x="1228" y="244" width="5" height="5" fill="#000"/>
<rect x="1229" y="245" width="3" height="3" fill="#fff"/>
<rect x="1238" y="241" width="1" height="61" fill="#000"/>
<rect x="1236" y="243" width="5" height="32" fill="#000"/>
<rect x="1246" y="256" width="1" height="27" fill="#000"/>
<rect x="1244" y="261" width="5" height="14" fill="#000"/>
<rect x="1245" y="262" width="3" height="12" fill="#fff"/>
<rect x="1254" y="249" width="1" height="13" fill="#000"/>
<rect x="1252" y="253" width="5" height="9" fill="#000"/>
<rect x="1253" y="254" width="3" height="7" fill="#fff"/>
<rect x="1262" y="242" width="1" height="40" fill="#000"/>
<rect x="1260" y="253" width="5" height="14" fill="#000"/>
<rect x="1270" y="246" width="1" height="26" fill="#000"/>
<rect x="1268" y="251" width="5" height="14" fill="#000"/>
<rect x="1269" y="252" width="3" height="12" fill="#fff"/>
<rect x="1278" y="234" width="1" height="24" fill="#000"/>
<rect x="1276" y="251" width="5" height="2" fill="#000"/>
<rect x="1286" y="219" width="1" height="38" fill="#000"/>
<rect x="1284" y="224" width="5" height="28" fill="#000"/>
<rect x="1285" y="225" width="3" height="26" fill="#fff"/>
<rect x="1294" y="214" width="1" height="43" fill="#000"/>
<rect x="1292" y="216" width="5" height="9" fill="#000"/>
<rect x="1293" y="217" width="3" height="7" fill="#fff"/>
<rect x="1302" y="191" width="1" height="31" fill="#000"/>
<rect x="1300" y="211" width="5" height="7" fill="#000"/>
<rect x="1301" y="212" width="3" height="5" fill="#fff"/>
<rect x="1310" y="172" width="1" height="38" fill="#000"/>
<rect x="1308" y="183" width="5" height="27" fill="#000"/>
<rect x="1309" y="184" width="3" height="25" fill="#fff"/>
<rect x="1318" y="183" width="1" height="18" fill="#000"/>
<rect x="1316" y="183" width="5" height="16" fill="#000"/>
<rect x="1326" y="174" width="1" height="32" fill="#000"/>
<rect x="1324" y="191" width="5" height="8" fill="#000"/>
<rect x="1325" y="192" width="3" height="6" fill="#fff"/>
<rect x="1334" y="183" width="1" height="36" fill="#000"/>
<rect x="1332" y="192" width="5" height="3" fill="#000"/>
<rect x="1342" y="168" width="1" height="33" fill="#000"/>
<rect x="1340" y="168" width="5" height="27" fill="#000"/>
<rect x="1341" y="169" width="3" height="25" fill="#fff"/>
<rect x="1350" y="160" width="1" height="14" fill="#000"/>
<rect x="1348" y="168" width="5" height="2" fill="#000"/>
<rect x="1286" y="195" width="71" height="16" fill="#00ff00"/>
<rect x="1465.5" y="186.5" width="99" height="32" fill="#fff" stroke="#ff0000" stroke-width="1"/>
<rect x="1455" y="201" width="8" height="1" fill="#ff0000"/><rect x="1462" y="199" width="4" height="4" fill="#fff" stroke="#ff0000" stroke-width="1"/>
<rect x="-3" y="101" width="6" height="6" fill="#ff0000"/><rect x="-1" y="103" width="2" height="2" fill="#fff"/>
<rect x="-3" y="133" width="6" height="6" fill="#ff0000"/><rect x="-1" y="135" width="2" height="2" fill="#fff"/>
<rect x="-3" y="199" width="6" height="6" fill="#32cd32"/><rect x="-1" y="201" width="2" height="2" fill="#fff"/>
<rect x="-3" y="229" width="6" height="6" fill="#0000ff"/><rect x="-1" y="231" width="2" height="2" fill="#fff"/>
<rect x="-3" y="263" width="6" height="6" fill="#0000ff"/><rect x="-1" y="265" width="2" height="2" fill="#fff"/>
</g>
<rect x="1620" y="101" width="6" height="6" fill="#ff0000"/><rect x="1622" y="103" width="2" height="2" fill="#fff"/>
<rect x="1620" y="133" width="6" height="6" fill="#ff0000"/><rect x="1622" y="135" width="2" height="2" fill="#fff"/>
<rect x="1620" y="199" width="6" height="6" fill="#32cd32"/><rect x="1622" y="201" width="2" height="2" fill="#fff"/>
<rect x="1620" y="229" width="6" height="6" fill="#0000ff"/><rect x="1622" y="231" width="2" height="2" fill="#fff"/>
<rect x="1620" y="263" width="6" height="6" fill="#0000ff"/><rect x="1622" y="265" width="2" height="2" fill="#fff"/>
<rect x="1628" y="98" width="41" height="11" fill="#ff0000"/>
<rect x="1628" y="130" width="41" height="11" fill="#ff0000"/>
<rect x="1628" y="164" width="41" height="11" fill="#000000"/>
<rect x="1628" y="196" width="41" height="11" fill="#32cd32"/>
<rect x="1628" y="226" width="41" height="11" fill="#0000ff"/>
<rect x="1628" y="260" width="41" height="11" fill="#0000ff"/>
<g clip-path="url(#cd)">
<rect x="-2" y="636" width="1" height="7" fill="#c0c0c0"/>
<rect x="6" y="636" width="1" height="21" fill="#c0c0c0"/>
<rect x="14" y="636" width="1" height="38" fill="#c0c0c0"/>
<rect x="22" y="636" width="1" height="52" fill="#c0c0c0"/>
<rect x="30" y="636" width="1" height="64" fill="#c0c0c0"/>
<rect x="38" y="636" width="1" height="75" fill="#c0c0c0"/>
<rect x="46" y="636" width="1" height="84" fill="#c0c0c0"/>
<rect x="54" y="636" width="1" height="90" fill="#c0c0c0"/>
<rect x="62" y="636" width="1" height="102" fill="#c0c0c0"/>
<rect x="70" y="636" width="1" height="111" fill="#c0c0c0"/>
<rect x="78" y="636" width="1" height="114" fill="#c0c0c0"/>
<rect x="86" y="636" width="1" height="116" fill="#c0c0c0"/>
<rect x="94" y="636" width="1" height="115" fill="#c0c0c0"/>
<rect x="102" y="636" width="1" height="120" fill="#c0c0c0"/>
<rect x="110" y="636" width="1" height="111" fill="#c0c0c0"/>
<rect x="118" y="636" width="1" height="104" fill="#c0c0c0"/>
<rect x="126" y="636" width="1" height="94" fill="#c0c0c0"/>
<rect x="134" y="636" width="1" height="88" fill="#c0c0c0"/>
<rect x="142" y="636" width="1" height="80" fill="#c0c0c0"/>
<rect x="150" y="636" width="1" height="76" fill="#c0c0c0"/>
<rect x="158" y="636" width="1" height="76" fill="#c0c0c0"/>
<rect x="166" y="636" width="1" height="72" fill="#c0c0c0"/>
<rect x="174" y="636" width="1" height="73" fill="#c0c0c0"/>
<rect x="182" y="636" width="1" height="77" fill="#c0c0c0"/>
<rect x="190" y="636" width="1" height="71" fill="#c0c0c0"/>
<rect x="198" y="636" width="1" height="67" fill="#c0c0c0"/>
<rect x="206" y="636" width="1" height="61" fill="#c0c0c0"/>
<rect x="214" y="636" width="1" height="58" fill="#c0c0c0"/>
<rect x="222" y="636" width="1" height="57" fill="#c0c0c0"/>
<rect x="230" y="636" width="1" height="54" fill="#c0c0c0"/>
<rect x="238" y="636" width="1" height="51" fill="#c0c0c0"/>
<rect x="246" y="636" width="1" height="51" fill="#c0c0c0"/>
<rect x="254" y="636" width="1" height="48" fill="#c0c0c0"/>
<rect x="262" y="636" width="1" height="46" fill="#c0c0c0"/>
<rect x="270" y="636" width="1" height="47" fill="#c0c0c0"/>
<rect x="278" y="636" width="1" height="53" fill="#c0c0c0"/>
<rect x="286" y="636" width="1" height="54" fill="#c0c0c0"/>
<rect x="294" y="636" width="1" height="56" fill="#c0c0c0"/>
<rect x="302" y="636" width="1" height="56" fill="#c0c0c0"/>
<rect x="310" y="636" width="1" height="55" fill="#c0c0c0"/>
<rect x="318" y="636" width="1" height="59" fill="#c0c0c0"/>
<rect x="326" y="636" width="1" height="58" fill="#c0c0c0"/>
<rect x="334" y="636" width="1" height="57" fill="#c0c0c0"/>
<rect x="342" y="636" width="1" height="55" fill="#c0c0c0"/>
<rect x="350" y="636" width="1" height="51" fill="#c0c0c0"/>
<rect x="358" y="636" width="1" height="52" fill="#c0c0c0"/>
<rect x="366" y="636" width="1" height="51" fill="#c0c0c0"/>
<rect x="374" y="636" width="1" height="31" fill="#c0c0c0"/>
<rect x="382" y="636" width="1" height="14" fill="#c0c0c0"/>
<rect x="390" y="636" width="1" height="1" fill="#c0c0c0"/>
<rect x="398" y="631" width="1" height="6" fill="#c0c0c0"/>
<rect x="406" y="624" width="1" height="13" fill="#c0c0c0"/>
<rect x="414" y="628" width="1" height="9" fill="#c0c0c0"/>
<rect x="422" y="631" width="1" height="6" fill="#c0c0c0"/>
<rect x="430" y="632" width="1" height="5" fill="#c0c0c0"/>
<rect x="438" y="633" width="1" height="4" fill="#c0c0c0"/>
<rect x="446" y="634" width="1" height="3" fill="#c0c0c0"/>
<rect x="454" y="630" width="1" height="7" fill="#c0c0c0"/>
<rect x="462" y="629" width="1" height="8" fill="#c0c0c0"/>
<rect x="470" y="628" width="1" height="9" fill="#c0c0c0"/>
<rect x="478" y="629" width="1" height="8" fill="#c0c0c0"/>
<rect x="486" y="629" width="1" height="8" fill="#c0c0c0"/>
<rect x="494" y="627" width="1" height="10" fill="#c0c0c0"/>
<rect x="502" y="626" width="1" height="11" fill="#c0c0c0"/>
<rect x="510" y="624" width="1" height="13" fill="#c0c0c0"/>
<rect x="518" y="622" width="1" height="15" fill="#c0c0c0"/>
<rect x="526" y="621" width="1" height="16" fill="#c0c0c0"/>
<rect x="534" y="618" width="1" height="19" fill="#c0c0c0"/>
<rect x="542" y="618" width="1" height="19" fill="#c0c0c0"/>
<rect x="550" y="617" width="1" height="20" fill="#c0c0c0"/>
<rect x="558" y="613" width="1" height="24" fill="#c0c0c0"/>
<rect x="566" y="612" width="1" height="25" fill="#c0c0c0"/>
<rect x="574" y="610" width="1" height="27" fill="#c0c0c0"/>
<rect x="582" y="609" width="1" height="28" fill="#c0c0c0"/>
<rect x="590" y="609" width="1" height="28" fill="#c0c0c0"/>
<rect x="598" y="611" width="1" height="26" fill="#c0c0c0"/>
<rect x="606" y="614" width="1" height="23" fill="#c0c0c0"/>
<rect x="614" y="617" width="1" height="20" fill="#c0c0c0"/>
<rect x="622" y="621" width="1" height="16" fill="#c0c0c0"/>
<rect x="630" y="624" width="1" height="13" fill="#c0c0c0"/>
<rect x="638" y="623" width="1" height="14" fill="#c0c0c0"/>
<rect x="646" y="622" width="1" height="15" fill="#c0c0c0"/>
<rect x="654" y="622" width="1" height="15" fill="#c0c0c0"/>
<rect x="662" y="621" width="1" height="16" fill="#c0c0c0"/>
<rect x="670" y="620" width="1" height="17" fill="#c0c0c0"/>
<rect x="678" y="619" width="1" height="18" fill="#c0c0c0"/>
<rect x="686" y="621" width="1" height="16" fill="#c0c0c0"/>
<rect x="694" y="623" width="1" height="14" fill="#c0c0c0"/>
<rect x="702" y="622" width="1" height="15" fill="#c0c0c0"/>
<rect x="710" y="624" width="1" height="13" fill="#c0c0c0"/>
<rect x="718" y="626" width="1" height="11" fill="#c0c0c0"/>
<rect x="726" y="626" width="1" height="11" fill="#c0c0c0"/>
<rect x="734" y="626" width="1" height="11" fill="#c0c0c0"/>
<rect x="742" y="624" width="1" height="13" fill="#c0c0c0"/>
<rect x="750" y="622" width="1" height="15" fill="#c0c0c0"/>
<rect x="758" y="636" width="1" height="5" fill="#c0c0c0"/>
<rect x="766" y="636" width="1" height="19" fill="#c0c0c0"/>
<rect x="774" y="636" width="1" height="37" fill="#c0c0c0"/>
<rect x="782" y="636" width="1" height="41" fill="#c0c0c0"/>
<rect x="790" y="636" width="1" height="40" fill="#c0c0c0"/>
<rect x="798" y="636" width="1" height="37" fill="#c0c0c0"/>
<rect x="806" y="636" width="1" height="33" fill="#c0c0c0"/>
<rect x="814" y="636" width="1" height="27" fill="#c0c0c0"/>
<rect x="822" y="636" width="1" height="24" fill="#c0c0c0"/>
<rect x="830" y="636" width="1" height="26" fill="#c0c0c0"/>
<rect x="838" y="636" width="1" height="27" fill="#c0c0c0"/>
<rect x="846" y="636" width="1" height="26" fill="#c0c0c0"/>
<rect x="854" y="636" width="1" height="25" fill="#c0c0c0"/>
<rect x="862" y="636" width="1" height="25" fill="#c0c0c0"/>
<rect x="870" y="636" width="1" height="24" fill="#c0c0c0"/>
<rect x="878" y="636" width="1" height="22" fill="#c0c0c0"/>
<rect x="886" y="636" width="1" height="21" fill="#c0c0c0"/>
<rect x="894" y="636" width="1" height="21" fill="#c0c0c0"/>
<rect x="902" y="636" width="1" height="18" fill="#c0c0c0"/>
<rect x="910" y="636" width="1" height="12" fill="#c0c0c0"/>
<rect x="918" y="636" width="1" height="8" fill="#c0c0c0"/>
<rect x="926" y="636" width="1" height="8" fill="#c0c0c0"/>
<rect x="934" y="636" width="1" height="4" fill="#c0c0c0"/>
<rect x="942" y="635" width="1" height="2" fill="#c0c0c0"/>
<rect x="950" y="628" width="1" height="9" fill="#c0c0c0"/>
<rect x="958" y="623" width="1" height="14" fill="#c0c0c0"/>
<rect x="966" y="619" width="1" height="18" fill="#c0c0c0"/>
<rect x="974" y="616" width="1" height="21" fill="#c0c0c0"/>
<rect x="982" y="613" width="1" height="24" fill="#c0c0c0"/>
<rect x="990" y="614" width="1" height="23" fill="#c0c0c0"/>
<rect x="998" y="616" width="1" height="21" fill="#c0c0c0"/>
<rect x="1006" y="617" width="1" height="20" fill="#c0c0c0"/>
<rect x="1014" y="621" width="1" height="16" fill="#c0c0c0"/>
<rect x="1022" y="623" width="1" height="14" fill="#c0c0c0"/>
<rect x="1030" y="624" width="1" height="13" fill="#c0c0c0"/>
<rect x="1038" y="623" width="1" height="14" fill="#c0c0c0"/>
<rect x="1046" y="625" width="1" height="12" fill="#c0c0c0"/>
<rect x="1054" y="627" width="1" height="10" fill="#c0c0c0"/>
<rect x="1062" y="628" width="1" height="9" fill="#c0c0c0"/>
<rect x="1070" y="628" width="1" height="9" fill="#c0c0c0"/>
<rect x="1078" y="632" width="1" height="5" fill="#c0c0c0"/>
<rect x="1086" y="634" width="1" height="3" fill="#c0c0c0"/>
<rect x="1094" y="636" width="1" height="2" fill="#c0c0c0"/>
<rect x="1102" y="636" width="1" height="3" fill="#c0c0c0"/>
<rect x="1110" y="636" width="1" height="7" fill="#c0c0c0"/>
<rect x="1118" y="636" width="1" height="8" fill="#c0c0c0"/>
<rect x="1126" y="636" width="1" height="5" fill="#c0c0c0"/>
<rect x="1134" y="636" width="1" height="3" fill="#c0c0c0"/>
<rect x="1150" y="633" width="1" height="4" fill="#c0c0c0"/>
<rect x="1158" y="631" width="1" height="6" fill="#c0c0c0"/>
<rect x="1166" y="625" width="1" height="12" fill="#c0c0c0"/>
<rect x="1174" y="622" width="1" height="15" fill="#c0c0c0"/>
<rect x="1182" y="619" width="1" height="18" fill="#c0c0c0"/>
<rect x="1190" y="611" width="1" height="26" fill="#c0c0c0"/>
<rect x="1198" y="605" width="1" height="32" fill="#c0c0c0"/>
<rect x="1206" y="600" width="1" height="37" fill="#c0c0c0"/>
<rect x="1214" y="597" width="1" height="40" fill="#c0c0c0"/>
<rect x="1222" y="596" width="1" height="41" fill="#c0c0c0"/>
<rect x="1230" y="595" width="1" height="42" fill="#c0c0c0"/>
<rect x="1238" y="597" width="1" height="40" fill="#c0c0c0"/>
<rect x="1246" y="599" width="1" height="38" fill="#c0c0c0"/>
<rect x="1254" y="599" width="1" height="38" fill="#c0c0c0"/>
<rect x="1262" y="602" width="1" height="35" fill="#c0c0c0"/>
<rect x="1270" y="602" width="1" height="35" fill="#c0c0c0"/>
<rect x="1278" y="603" width="1" height="34" fill="#c0c0c0"/>
<rect x="1286" y="602" width="1" height="35" fill="#c0c0c0"/>
<rect x="1294" y="600" width="1" height="37" fill="#c0c0c0"/>
<rect x="1302" y="599" width="1" height="38" fill="#c0c0c0"/>
<rect x="1310" y="596" width="1" height="41" fill="#c0c0c0"/>
<rect x="1318" y="595" width="1" height="42" fill="#c0c0c0"/>
<rect x="1326" y="594" width="1" height="43" fill="#c0c0c0"/>
<rect x="1334" y="595" width="1" height="42" fill="#c0c0c0"/>
<rect x="1342" y="593" width="1" height="44" fill="#c0c0c0"/>
<rect x="1350" y="592" width="1" height="45" fill="#c0c0c0"/>
<polyline points="-9.5,625.4 -1.5,625.6 6.5,627.9 14.5,632.6 22.5,639.3 30.5,647.8 38.5,658.0 46.5,669.6 54.5,682.2 62.5,695.1 70.5,706.7 78.5,717.0 86.5,725.8 94.5,732.8 102.5,739.0 110.5,743.0 118.5,745.1 126.5,745.6 134.5,744.0 142.5,740.6 150.5,736.4 158.5,731.9 166.5,727.1 174.5,721.8 182.5,718.1 190.5,714.5 198.5,711.5 206.5,708.6 214.5,706.1 222.5,704.0 230.5,701.5 238.5,699.3 246.5,696.8 254.5,693.6 262.5,690.8 270.5,688.6 278.5,687.7 286.5,687.2 294.5,687.1 302.5,687.4 310.5,687.8 318.5,688.8 326.5,689.8 334.5,691.0 342.5,691.9 350.5,691.7 358.5,691.5 366.5,690.9 374.5,688.1 382.5,683.5 390.5,677.1 398.5,670.1 406.5,662.4 414.5,655.5 422.5,649.2 430.5,643.0 438.5,636.9 446.5,633.3 454.5,631.1 462.5,630.3 470.5,630.0 478.5,630.5 486.5,630.6 494.5,630.1 502.5,629.5 510.5,628.5 518.5,627.2 526.5,626.1 534.5,624.9 542.5,623.8 550.5,622.4 558.5,620.7 566.5,619.1 574.5,617.3 582.5,615.6 590.5,614.2 598.5,613.0 606.5,612.5 614.5,612.4 622.5,612.9 630.5,614.1 638.5,615.3 646.5,616.6 654.5,618.0 662.5,619.4 670.5,620.4 678.5,620.9 686.5,621.4 694.5,621.5 702.5,621.3 710.5,621.4 718.5,621.8 726.5,622.4 734.5,622.9 742.5,623.4 750.5,623.8 758.5,626.0 766.5,629.6 774.5,635.2 782.5,641.2 790.5,646.8 798.5,652.0 806.5,656.8 814.5,661.1 822.5,665.3 830.5,667.7 838.5,668.5 846.5,667.4 854.5,665.6 862.5,663.8 870.5,662.3 878.5,661.1 886.5,660.5 894.5,660.1 902.5,659.3 910.5,657.6 918.5,655.6 926.5,653.7 934.5,651.4 942.5,648.6 950.5,645.3 958.5,641.5 966.5,637.3 974.5,633.0 982.5,629.2 990.5,625.9 998.5,622.8 1006.5,620.3 1014.5,618.6 1022.5,618.1 1030.5,618.3 1038.5,618.7 1046.5,619.8 1054.5,621.3 1062.5,622.8 1070.5,624.2 1078.5,625.8 1086.5,627.2 1094.5,628.9 1102.5,630.6 1110.5,632.7 1118.5,634.8 1126.5,636.4 1134.5,637.6 1142.5,638.5 1150.5,638.6 1158.5,638.3 1166.5,636.8 1174.5,634.9 1182.5,632.2 1190.5,628.6 1198.5,624.6 1206.5,620.3 1214.5,615.9 1222.5,611.8 1230.5,607.7 1238.5,604.7 1246.5,602.1 1254.5,599.9 1262.5,598.8 1270.5,598.5 1278.5,598.8 1286.5,599.4 1294.5,599.9 1302.5,600.4 1310.5,600.2 1318.5,599.8 1326.5,599.2 1334.5,598.5 1342.5,597.4 1350.5,596.1" fill="none" stroke="#ff0000" stroke-width="1" stroke-dasharray="3,3" shape-rendering="crispEdges"/>
</g>
<g clip-path="url(#cr)">
<line x1="0" y1="800.5" x2="1626" y2="800.5" stroke="#c0c0c0" stroke-dasharray="3,3"/>
<line x1="0" y1="847.5" x2="1626" y2="847.5" stroke="#c0c0c0" stroke-dasharray="3,3"/>
<line x1="0" y1="903.5" x2="1626" y2="903.5" stroke="#c0c0c0" stroke-dasharray="3,3"/>
<polyline points="-9.5,864.6 -1.5,886.4 6.5,879.9 14.5,886.2 22.5,888.1 30.5,889.1 38.5,891.8 46.5,892.7 54.5,892.7 62.5,899.6 70.5,899.9 78.5,892.7 86.5,893.3 94.5,887.1 102.5,894.8 110.5,862.5 118.5,865.0 126.5,859.8 134.5,862.0 142.5,859.1 150.5,863.9 158.5,869.2 166.5,861.4 174.5,869.6 182.5,873.8 190.5,856.8 198.5,859.0 206.5,855.8 214.5,858.8 222.5,861.0 230.5,859.0 238.5,860.2 246.5,862.9 254.5,859.2 262.5,860.4 270.5,864.8 278.5,875.1 286.5,864.9 294.5,869.0 302.5,866.2 310.5,864.9 318.5,872.8 326.5,863.2 334.5,865.2 342.5,862.4 350.5,859.2 358.5,866.4 366.5,865.4 374.5,828.9 382.5,827.4 390.5,829.9 398.5,837.1 406.5,835.2 414.5,850.2 422.5,851.5 430.5,846.7 438.5,848.7 446.5,849.2 454.5,839.9 462.5,844.0 470.5,843.6 478.5,846.2 486.5,844.4 494.5,841.0 502.5,842.7 510.5,838.7 518.5,836.8 526.5,839.5 534.5,834.5 542.5,837.9 550.5,836.3 558.5,829.3 566.5,834.7 574.5,829.8 582.5,834.0 590.5,833.0 598.5,839.7 606.5,845.4 614.5,845.3 622.5,852.0 630.5,848.5 638.5,838.8 646.5,836.1 654.5,839.1 662.5,837.5 670.5,833.1 678.5,834.7 686.5,844.1 694.5,844.6 702.5,837.0 710.5,845.2 718.5,848.1 726.5,843.3 734.5,838.9 742.5,835.0 750.5,830.5 758.5,881.4 766.5,881.5 774.5,888.6 782.5,865.6 790.5,857.1 798.5,853.0 806.5,849.8 814.5,846.0 822.5,850.8 830.5,858.3 838.5,855.9 846.5,855.5 854.5,853.6 862.5,855.8 870.5,855.1 878.5,851.5 886.5,855.1 894.5,856.0 902.5,849.5 910.5,838.3 918.5,842.4 926.5,849.2 934.5,842.0 942.5,836.8 950.5,829.7 958.5,830.0 966.5,832.1 974.5,830.6 982.5,829.9 990.5,839.5 998.5,841.3 1006.5,842.4 1014.5,848.9 1022.5,847.8 1030.5,842.8 1038.5,838.3 1046.5,847.3 1054.5,846.9 1062.5,847.2 1070.5,841.2 1078.5,857.5 1086.5,850.6 1094.5,860.6 1102.5,851.8 1110.5,859.8 1118.5,854.2 1126.5,842.7 1134.5,843.1 1142.5,840.3 1150.5,836.8 1158.5,839.0 1166.5,827.1 1174.5,834.0 1182.5,829.7 1190.5,820.2 1198.5,818.7 1206.5,817.3 1214.5,818.2 1222.5,823.4 1230.5,822.2 1238.5,834.7 1246.5,831.3 1254.5,829.2 1262.5,834.4 1270.5,830.1 1278.5,830.7 1286.5,823.1 1294.5,821.2 1302.5,819.8 1310.5,813.5 1318.5,821.1 1326.5,819.4 1334.5,820.9 1342.5,814.5 1350.5,814.9" fill="none" stroke="#1e90ff" stroke-width="1" shape-rendering="crispEdges"/>
</g>
<rect x="-2" y="928" width="1" height="3" fill="#000"/>
<rect x="62" y="928" width="1" height="3" fill="#000"/>
<rect x="126" y="928" width="1" height="3" fill="#000"/>
<rect x="190" y="928" width="1" height="3" fill="#000"/>
<rect x="254" y="928" width="1" height="3" fill="#000"/>
<rect x="318" y="928" width="1" height="3" fill="#000"/>
<rect x="382" y="928" width="1" height="3" fill="#000"/>
<rect x="446" y="928" width="1" height="3" fill="#000"/>
<rect x="510" y="928" width="1" height="3" fill="#000"/>
<rect x="574" y="928" width="1" height="3" fill="#000"/>
<rect x="638" y="928" width="1" height="3" fill="#000"/>
<rect x="702" y="928" width="1" height="3" fill="#000"/>
<rect x="766" y="928" width="1" height="3" fill="#000"/>
<rect x="830" y="928" width="1" height="3" fill="#000"/>
<rect x="894" y="928" width="1" height="3" fill="#000"/>
<rect x="958" y="928" width="1" height="3" fill="#000"/>
<rect x="1022" y="928" width="1" height="3" fill="#000"/>
<rect x="1086" y="928" width="1" height="3" fill="#000"/>
<rect x="1150" y="928" width="1" height="3" fill="#000"/>
<rect x="1214" y="928" width="1" height="3" fill="#000"/>
<rect x="1278" y="928" width="1" height="3" fill="#000"/>
<rect x="1342" y="928" width="1" height="3" fill="#000"/>
<path d="M1360 28 H1369 L1364.5 33 Z" fill="#c0c0c0" shape-rendering="geometricPrecision"/>
</svg>
<svg width="1673" height="25" viewBox="0 0 1673 25" style="position:absolute;left:0;top:0">
<rect x="0" y="0" width="1673" height="23" fill="#f0f0f0"/>
<rect x="0" y="22" width="1673" height="1" fill="#f5f5f5"/>
<rect x="0" y="23" width="1673" height="1" fill="#a4a4a4"/>
<rect x="0" y="24" width="1673" height="1" fill="#6a6a6a"/>
<path d="M0.5 3.5 h6 l2.5 2.5 v10 h-8.5 z" fill="#fafafa" stroke="#8a8a8a" stroke-width="1"/>
<rect x="1" y="7" width="5" height="1" fill="#909090"/><rect x="1" y="10" width="4" height="1" fill="#909090"/>
<path d="M5 9.5 h4 v4 h4 v4 h-4 v3 h-4 v-3 h-4 v-4 h4 z" fill="#22d022" stroke="#0c8a0c" stroke-width="0.9"/>
<text x="16" y="13.5" font-size="12" font-family="Liberation Sans, sans-serif" fill="#000" stroke="#000" stroke-width="0.25">新订单</text>
<path d="M65 13 l6 -9 l9 5 l-6 10 z" fill="#e2b21e" stroke="#946410" stroke-width="1"/>
<path d="M67 13 l5 -7 l6 3.5" fill="none" stroke="#fff0a0" stroke-width="1.2"/>
<path d="M66 15 l8 4 l6 -9" fill="none" stroke="#b88420" stroke-width="1"/>
<path d="M94 5 l3 -2 h8 v10 h-11 z" fill="#2a9ae8" stroke="#1660a8" stroke-width="1"/>
<rect x="98" y="7" width="5" height="1.5" fill="#e0f0ff"/>
<path d="M93 19 q-2 -4 2 -5 q1 -4 5 -3 q3 -3 6 1 q3 1 2 5 z" fill="#eef2f8" stroke="#6888b0" stroke-width="1"/>
<circle cx="128" cy="11" r="7" fill="none" stroke="#8fb0e0" stroke-width="1"/>
<circle cx="128" cy="11" r="4.5" fill="none" stroke="#5b8ad8" stroke-width="1"/>
<circle cx="128" cy="10" r="1.5" fill="#2a5ad0"/>
<path d="M128 11 v8 h3" fill="none" stroke="#2aa02a" stroke-width="1.2"/>
<path d="M148 10 l8 9 l7 -5 l-1 -4 z" fill="#f0d040" stroke="#b08a10" stroke-width="0.8"/>
<ellipse cx="155" cy="8" rx="8" ry="3" fill="#60b0e0" stroke="#2a78b0" stroke-width="0.8"/>
<ellipse cx="155" cy="6" rx="4" ry="3" fill="#80c8f0" stroke="#2a78b0" stroke-width="0.8"/>
<circle cx="159.5" cy="14.5" r="4" fill="#d82020"/><rect x="158" y="13" width="3" height="3" fill="#fff"/>
<text x="169" y="13.5" font-size="12" font-family="Liberation Sans, sans-serif" fill="#000" stroke="#000" stroke-width="0.25">自动交易</text>
<rect x="223" y="0" width="1" height="21" fill="#a0a0a0"/><rect x="224" y="0" width="1" height="21" fill="#ffffff"/>
<rect x="227" y="2" width="3" height="1" fill="#8c8c8c"/>
<rect x="227" y="4" width="3" height="1" fill="#8c8c8c"/>
<rect x="227" y="6" width="3" height="1" fill="#8c8c8c"/>
<rect x="227" y="8" width="3" height="1" fill="#8c8c8c"/>
<rect x="227" y="10" width="3" height="1" fill="#8c8c8c"/>
<rect x="227" y="12" width="3" height="1" fill="#8c8c8c"/>
<rect x="227" y="14" width="3" height="1" fill="#8c8c8c"/>
<rect x="227" y="16" width="3" height="1" fill="#8c8c8c"/>
<rect x="227" y="18" width="3" height="1" fill="#8c8c8c"/>
<rect x="227" y="20" width="3" height="1" fill="#8c8c8c"/>
<path d="M241 5 v14 M239 17 h13" stroke="#444" stroke-width="1.2" fill="none"/>
<path d="M241 4 l-2 3 h4 z M253 17 l-3 -2 v4 z" fill="#444"/>
<path d="M248 13 h2 v-7 h2" stroke="#109010" stroke-width="1.3" fill="none"/>
<rect x="261" y="0" width="1" height="21" fill="#a0a0a0"/><rect x="262" y="0" width="1" height="21" fill="#ffffff"/>
<rect x="263" y="1" width="24" height="20" fill="#ececec"/>
<path d="M269 5 v14 M267 17 h13" stroke="#444" stroke-width="1.2" fill="none"/>
<path d="M269 4 l-2 3 h4 z M281 17 l-3 -2 v4 z" fill="#444"/>
<rect x="273" y="6" width="5" height="7" fill="#40e040" stroke="#089008" stroke-width="1"/><rect x="275" y="3" width="1" height="12" fill="#089008"/>
<path d="M297 5 v14 M295 17 h13" stroke="#444" stroke-width="1.2" fill="none"/>
<path d="M297 4 l-2 3 h4 z M309 17 l-3 -2 v4 z" fill="#444"/>
<path d="M296 14 q5 -8 8 -6 q2 1 5 4" stroke="#20a020" stroke-width="1.2" fill="none"/>
<rect x="318" y="0" width="1" height="21" fill="#a0a0a0"/><rect x="319" y="0" width="1" height="21" fill="#ffffff"/>
<line x1="336" y1="12" x2="342" y2="18" stroke="#c8a020" stroke-width="3"/>
<circle cx="333" cy="9" r="5.5" fill="#d8f0fc" stroke="#3a7ac8" stroke-width="1.3"/>
<rect x="330" y="8" width="6" height="2" fill="#3a7ac8"/>
<rect x="332" y="6" width="2" height="6" fill="#3a7ac8"/>
<line x1="364" y1="12" x2="370" y2="18" stroke="#c8a020" stroke-width="3"/>
<circle cx="361" cy="9" r="5.5" fill="#d8f0fc" stroke="#3a7ac8" stroke-width="1.3"/>
<rect x="358" y="8" width="6" height="2" fill="#3a7ac8"/>
<rect x="383" y="3" width="8" height="8" fill="#30a030"/><rect x="391" y="3" width="8" height="8" fill="#2a5ad8"/>
<rect x="383" y="11" width="8" height="8" fill="#2a5ad8"/><rect x="391" y="11" width="8" height="8" fill="#30a030"/>
<rect x="385" y="6" width="5" height="3" fill="#fff"/>
<rect x="393" y="6" width="5" height="3" fill="#fff"/>
<rect x="385" y="14" width="5" height="3" fill="#fff"/>
<rect x="393" y="14" width="5" height="3" fill="#fff"/>
<rect x="408" y="0" width="1" height="21" fill="#a0a0a0"/><rect x="409" y="0" width="1" height="21" fill="#ffffff"/>
<rect x="414" y="1" width="25" height="20" fill="#ececec"/>
<path d="M421 5 v14 M419 17 h13" stroke="#444" stroke-width="1.2" fill="none"/>
<path d="M421 4 l-2 3 h4 z M433 17 l-3 -2 v4 z" fill="#444"/>
<path d="M427 7 l5 3 l-5 3 z" fill="#20b020"/>
<rect x="441" y="0" width="1" height="21" fill="#a0a0a0"/><rect x="442" y="0" width="1" height="21" fill="#ffffff"/>
<rect x="443" y="1" width="24" height="20" fill="#ececec"/>
<path d="M449 5 v14 M447 17 h13" stroke="#444" stroke-width="1.2" fill="none"/>
<path d="M449 4 l-2 3 h4 z M461 17 l-3 -2 v4 z" fill="#444"/>
<rect x="455" y="5" width="1" height="10" fill="#1a70c0"/><path d="M457 10 l4 -2 v4 z" fill="#e04010"/>
<rect x="470" y="0" width="1" height="21" fill="#a0a0a0"/><rect x="471" y="0" width="1" height="21" fill="#ffffff"/>
<path d="M481 3 h8 l2 2 v11 h-10 z" fill="#fff" stroke="#888" stroke-width="1"/>
<path d="M488 10 h3 v3 h3 v3 h-3 v4 h-3 v-4 h-3 v-3 h3 z" fill="#30e030" stroke="#0a8a0a" stroke-width="0.8"/>
<path d="M502 10 h6 l-3 3 z" fill="#000"/>
<circle cx="526" cy="11" r="7.5" fill="#1a6ad8"/><circle cx="526" cy="11" r="5.5" fill="#f4f8fc"/>
<path d="M526 7 v4 h3" stroke="#222" stroke-width="1.2" fill="none"/>
<path d="M541 10 h6 l-3 3 z" fill="#000"/>
<rect x="557" y="4" width="16" height="14" fill="#fff" stroke="#3a78c8" stroke-width="1.2"/>
<rect x="557" y="4" width="16" height="2" fill="#5a98e0"/><rect x="557" y="12" width="16" height="1" fill="#3a78c8"/>
<path d="M559 10 l3 -1 l3 -1 l3 1 l3 -1" stroke="#a02010" stroke-width="1" fill="none"/>
<path d="M559 15 l3 0 l3 -1 l3 -1 l3 2" stroke="#109010" stroke-width="1" fill="none"/>
<path d="M580 10 h6 l-3 3 z" fill="#000"/>
<rect x="591" y="0" width="1" height="21" fill="#a0a0a0"/><rect x="592" y="0" width="1" height="21" fill="#ffffff"/>
<rect x="595" y="2" width="3" height="1" fill="#8c8c8c"/>
<rect x="595" y="4" width="3" height="1" fill="#8c8c8c"/>
<rect x="595" y="6" width="3" height="1" fill="#8c8c8c"/>
<rect x="595" y="8" width="3" height="1" fill="#8c8c8c"/>
<rect x="595" y="10" width="3" height="1" fill="#8c8c8c"/>
<rect x="595" y="12" width="3" height="1" fill="#8c8c8c"/>
<rect x="595" y="14" width="3" height="1" fill="#8c8c8c"/>
<rect x="595" y="16" width="3" height="1" fill="#8c8c8c"/>
<rect x="595" y="18" width="3" height="1" fill="#8c8c8c"/>
<rect x="595" y="20" width="3" height="1" fill="#8c8c8c"/>
<rect x="602" y="1" width="25" height="20" fill="#ececec"/>
<path d="M609 4 l0 11 l3 -3 l2 5 l2 -1 l-2 -5 l4 0 z" fill="#505050"/>
<path d="M641 4 v15 M634 11 h15" stroke="#505050" stroke-width="1" fill="none"/>
<rect x="658" y="0" width="1" height="21" fill="#a0a0a0"/><rect x="659" y="0" width="1" height="21" fill="#ffffff"/>
<rect x="675" y="5" width="1.5" height="13" fill="#404040"/>
<rect x="698" y="11" width="12" height="1.5" fill="#404040"/>
<line x1="726" y1="18" x2="738" y2="6" stroke="#404040" stroke-width="1.3"/>
<path d="M752 14 l10 -9 M754 17 l10 -9 M756 20 l8 -7" stroke="#404040" stroke-width="1" fill="none"/>
<text x="762" y="20" font-size="7" font-weight="bold" font-family="Liberation Sans, sans-serif" fill="#404040">E</text>
<line x1="781" y1="4.5" x2="794" y2="4.5" stroke="#404040" stroke-width="1" stroke-dasharray="1,1"/>
<line x1="781" y1="7.5" x2="794" y2="7.5" stroke="#404040" stroke-width="1" stroke-dasharray="1,1"/>
<line x1="781" y1="11.5" x2="794" y2="11.5" stroke="#404040" stroke-width="1" stroke-dasharray="1,1"/>
<line x1="781" y1="15.5" x2="794" y2="15.5" stroke="#404040" stroke-width="1" stroke-dasharray="1,1"/>
<text x="790" y="20" font-size="7" font-weight="bold" font-family="Liberation Sans, sans-serif" fill="#404040">F</text>
<text x="811" y="16" font-size="11" font-weight="bold" font-family="Liberation Sans, sans-serif" fill="#404040">A</text>
<rect x="837.5" y="5.5" width="12" height="12" fill="none" stroke="#404040" stroke-width="1" stroke-dasharray="1,1"/>
<text x="839" y="15" font-size="10" font-weight="bold" font-family="Liberation Sans, sans-serif" fill="#404040">T</text>
<path d="M866 8 l3 -2 v4 z M870 8 l4 6 M872 15 l3 3 l3 -3 z" fill="#404040" stroke="#404040" stroke-width="1"/>
<path d="M885 10 h6 l-3 3 z" fill="#000"/>
<rect x="897" y="0" width="1" height="21" fill="#a0a0a0"/><rect x="898" y="0" width="1" height="21" fill="#ffffff"/>
<rect x="901" y="2" width="3" height="1" fill="#8c8c8c"/>
<rect x="901" y="4" width="3" height="1" fill="#8c8c8c"/>
<rect x="901" y="6" width="3" height="1" fill="#8c8c8c"/>
<rect x="901" y="8" width="3" height="1" fill="#8c8c8c"/>
<rect x="901" y="10" width="3" height="1" fill="#8c8c8c"/>
<rect x="901" y="12" width="3" height="1" fill="#8c8c8c"/>
<rect x="901" y="14" width="3" height="1" fill="#8c8c8c"/>
<rect x="901" y="16" width="3" height="1" fill="#8c8c8c"/>
<rect x="901" y="18" width="3" height="1" fill="#8c8c8c"/>
<rect x="901" y="20" width="3" height="1" fill="#8c8c8c"/>
<text x="913" y="15" font-size="10" font-family="Liberation Sans, sans-serif" fill="#333">M1</text>
<text x="941" y="15" font-size="10" font-family="Liberation Sans, sans-serif" fill="#333">M5</text>
<text x="967" y="15" font-size="10" font-family="Liberation Sans, sans-serif" fill="#333">M15</text>
<text x="994" y="15" font-size="10" font-family="Liberation Sans, sans-serif" fill="#333">M30</text>
<text x="1025" y="15" font-size="10" font-family="Liberation Sans, sans-serif" fill="#333">H1</text>
<rect x="1047" y="0" width="1" height="21" fill="#a0a0a0"/><rect x="1048" y="0" width="1" height="21" fill="#ffffff"/>
<rect x="1049" y="1" width="24" height="20" fill="#ececec"/>
<text x="1052" y="15" font-size="10" font-family="Liberation Sans, sans-serif" fill="#333">H4</text>
<text x="1081" y="15" font-size="10" font-family="Liberation Sans, sans-serif" fill="#333">D1</text>
<text x="1109" y="15" font-size="10" font-family="Liberation Sans, sans-serif" fill="#333">W1</text>
<text x="1136" y="15" font-size="10" font-family="Liberation Sans, sans-serif" fill="#333">MN</text>
<rect x="1157" y="0" width="1" height="21" fill="#a0a0a0"/><rect x="1158" y="0" width="1" height="21" fill="#ffffff"/>
<circle cx="1629" cy="8" r="3.5" fill="none" stroke="#2a5ad0" stroke-width="1.6"/><line x1="1626" y1="11" x2="1621" y2="16" stroke="#2a5ad0" stroke-width="2"/>
<ellipse cx="1662" cy="7" rx="6" ry="4" fill="#f4f4f4" stroke="#909090" stroke-width="1"/>
<ellipse cx="1653" cy="12" rx="5.5" ry="3.5" fill="#f4f4f4" stroke="#909090" stroke-width="1"/>
</svg>
<svg width="230" height="115" viewBox="0 0 230 115" style="position:absolute;left:0;top:0" shape-rendering="crispEdges">
<defs>
<linearGradient id="gt" x1="0" y1="0" x2="0" y2="1"><stop offset="0" stop-color="#f95050"/><stop offset="1" stop-color="#e23434"/></linearGradient>
<linearGradient id="gb" x1="0" y1="0" x2="0" y2="1"><stop offset="0" stop-color="#e03232"/><stop offset="1" stop-color="#b00808"/></linearGradient>
</defs>
<rect x="0" y="46" width="222" height="66" fill="#fff"/>
<path d="M1 47 H53 V71 H110 V111 H1 Z" fill="#b40000"/>
<rect x="2" y="48" width="50" height="23" fill="url(#gt)"/>
<rect x="2" y="71" width="107" height="39" fill="url(#gb)"/>
<rect x="2" y="48" width="50" height="1" fill="#ff6a6a"/>
<rect x="5" y="70" width="44" height="1" fill="#7a0000"/><rect x="5" y="71" width="44" height="1" fill="#ff7070"/>
<path d="M168 47 H220 V111 H112 V71 H168 Z" fill="#b40000"/>
<rect x="169" y="48" width="50" height="23" fill="url(#gt)"/>
<rect x="113" y="71" width="106" height="39" fill="url(#gb)"/>
<rect x="169" y="48" width="50" height="1" fill="#ff6a6a"/>
<rect x="172" y="70" width="44" height="1" fill="#7a0000"/><rect x="172" y="71" width="44" height="1" fill="#ff7070"/>
<rect x="55" y="47" width="111" height="22" fill="#a8a8a8"/>
<rect x="56" y="48" width="20" height="20" fill="#e6e6e6"/>
<rect x="76" y="48" width="1" height="20" fill="#a8a8a8"/>
<rect x="77" y="48" width="67" height="20" fill="#ffffff"/>
<rect x="144" y="48" width="1" height="20" fill="#a8a8a8"/>
<rect x="145" y="48" width="20" height="20" fill="#e6e6e6"/>
<path d="M62.5 56 h6 l-3 3 z" fill="#000" shape-rendering="geometricPrecision"/>
<path d="M152 58.5 h6 l-3 -3 z" fill="#000" shape-rendering="geometricPrecision"/>
<g shape-rendering="geometricPrecision">
<text x="141" y="61.5" font-size="12" text-anchor="end" font-family="Liberation Sans, sans-serif" fill="#000">1.00</text>
<text x="26.5" y="63" font-size="11.5" text-anchor="middle" letter-spacing="-0.2" font-family="Liberation Sans, sans-serif" fill="#fff">SELL</text>
<text x="193" y="63" font-size="11.5" text-anchor="middle" letter-spacing="-0.2" font-family="Liberation Sans, sans-serif" fill="#fff">BUY</text>
<text x="25" y="102" font-size="12.5" font-weight="bold" letter-spacing="-0.4" font-family="Liberation Sans, sans-serif" fill="#fff">107</text>
<text x="49" y="102.5" font-size="34.5" letter-spacing="-1.3" font-family="Liberation Sans, sans-serif" fill="#fff">50</text>
<text x="88.5" y="86" font-size="12.5" font-weight="bold" font-family="Liberation Sans, sans-serif" fill="#fff">8</text>
<text x="135" y="102" font-size="12.5" font-weight="bold" letter-spacing="-0.4" font-family="Liberation Sans, sans-serif" fill="#fff">107</text>
<text x="159" y="102.5" font-size="34.5" letter-spacing="-1.3" font-family="Liberation Sans, sans-serif" fill="#fff">52</text>
<text x="198.5" y="86" font-size="12.5" font-weight="bold" font-family="Liberation Sans, sans-serif" fill="#fff">8</text>
</g></svg>
<div class="a" style="left:1632px;top:46px;font-size:10px;color:#000;letter-spacing:-0.45px;">108.330</div>
<div class="a" style="left:1632px;top:79px;font-size:10px;color:#000;letter-spacing:-0.45px;">108.105</div>
<div class="a" style="left:1632px;top:112px;font-size:10px;color:#000;letter-spacing:-0.45px;">107.880</div>
<div class="a" style="left:1632px;top:145px;font-size:10px;color:#000;letter-spacing:-0.45px;">107.655</div>
<div class="a" style="left:1632px;top:178px;font-size:10px;color:#000;letter-spacing:-0.45px;">107.430</div>
<div class="a" style="left:1632px;top:211px;font-size:10px;color:#000;letter-spacing:-0.45px;">107.205</div>
<div class="a" style="left:1632px;top:244px;font-size:10px;color:#000;letter-spacing:-0.45px;">106.980</div>
<div class="a" style="left:1632px;top:277px;font-size:10px;color:#000;letter-spacing:-0.45px;">106.755</div>
<div class="a" style="left:1632px;top:309px;font-size:10px;color:#000;letter-spacing:-0.45px;">106.530</div>
<div class="a" style="left:1632px;top:342px;font-size:10px;color:#000;letter-spacing:-0.45px;">106.300</div>
<div class="a" style="left:1632px;top:375px;font-size:10px;color:#000;letter-spacing:-0.45px;">106.075</div>
<div class="a" style="left:1632px;top:408px;font-size:10px;color:#000;letter-spacing:-0.45px;">105.850</div>
<div class="a" style="left:1632px;top:441px;font-size:10px;color:#000;letter-spacing:-0.45px;">105.625</div>
<div class="a" style="left:1632px;top:474px;font-size:10px;color:#000;letter-spacing:-0.45px;">105.400</div>
<div class="a" style="left:1632px;top:507px;font-size:10px;color:#000;letter-spacing:-0.45px;">105.175</div>
<div class="a" style="left:1632px;top:540px;font-size:10px;color:#000;letter-spacing:-0.45px;">104.950</div>
<div class="a" style="left:1632px;top:573px;font-size:10px;color:#000;letter-spacing:-0.45px;">104.725</div>
<div class="a" style="left:1632px;top:100px;font-size:10px;color:#fff;letter-spacing:-0.45px;">107.952</div>
<div class="a" style="left:1632px;top:132px;font-size:10px;color:#fff;letter-spacing:-0.45px;">107.734</div>
<div class="a" style="left:1632px;top:166px;font-size:10px;color:#fff;letter-spacing:-0.45px;">107.508</div>
<div class="a" style="left:1632px;top:198px;font-size:10px;color:#fff;letter-spacing:-0.45px;">107.285</div>
<div class="a" style="left:1632px;top:228px;font-size:10px;color:#fff;letter-spacing:-0.45px;">107.080</div>
<div class="a" style="left:1632px;top:262px;font-size:10px;color:#fff;letter-spacing:-0.45px;">106.849</div>
<div class="a" style="left:-3px;top:932px;font-size:10px;color:#000;letter-spacing:-0.3px;word-spacing:1px;">1 Aug 2019</div>
<div class="a" style="left:60.5px;top:932px;font-size:10px;color:#000;letter-spacing:-0.3px;word-spacing:1px;">5 Aug 00:00</div>
<div class="a" style="left:124.5px;top:932px;font-size:10px;color:#000;letter-spacing:-0.3px;word-spacing:1px;">6 Aug 08:00</div>
<div class="a" style="left:188.5px;top:932px;font-size:10px;color:#000;letter-spacing:-0.3px;word-spacing:1px;">7 Aug 16:00</div>
<div class="a" style="left:252.5px;top:932px;font-size:10px;color:#000;letter-spacing:-0.3px;word-spacing:1px;">9 Aug 00:00</div>
<div class="a" style="left:316.5px;top:932px;font-size:10px;color:#000;letter-spacing:-0.3px;word-spacing:1px;">12 Aug 08:00</div>
<div class="a" style="left:380.5px;top:932px;font-size:10px;color:#000;letter-spacing:-0.3px;word-spacing:1px;">13 Aug 16:00</div>
<div class="a" style="left:444.5px;top:932px;font-size:10px;color:#000;letter-spacing:-0.3px;word-spacing:1px;">15 Aug 00:00</div>
<div class="a" style="left:508.5px;top:932px;font-size:10px;color:#000;letter-spacing:-0.3px;word-spacing:1px;">16 Aug 08:00</div>
<div class="a" style="left:572.5px;top:932px;font-size:10px;color:#000;letter-spacing:-0.3px;word-spacing:1px;">19 Aug 16:00</div>
<div class="a" style="left:636.5px;top:932px;font-size:10px;color:#000;letter-spacing:-0.3px;word-spacing:1px;">21 Aug 00:00</div>
<div class="a" style="left:700.5px;top:932px;font-size:10px;color:#000;letter-spacing:-0.3px;word-spacing:1px;">22 Aug 08:00</div>
<div class="a" style="left:764.5px;top:932px;font-size:10px;color:#000;letter-spacing:-0.3px;word-spacing:1px;">23 Aug 16:00</div>
<div class="a" style="left:828.5px;top:932px;font-size:10px;color:#000;letter-spacing:-0.3px;word-spacing:1px;">27 Aug 00:00</div>
<div class="a" style="left:892.5px;top:932px;font-size:10px;color:#000;letter-spacing:-0.3px;word-spacing:1px;">28 Aug 08:00</div>
<div class="a" style="left:956.5px;top:932px;font-size:10px;color:#000;letter-spacing:-0.3px;word-spacing:1px;">29 Aug 16:00</div>
<div class="a" style="left:1020.5px;top:932px;font-size:10px;color:#000;letter-spacing:-0.3px;word-spacing:1px;">2 Sep 00:00</div>
<div class="a" style="left:1084.5px;top:932px;font-size:10px;color:#000;letter-spacing:-0.3px;word-spacing:1px;">3 Sep 08:00</div>
<div class="a" style="left:1148.5px;top:932px;font-size:10px;color:#000;letter-spacing:-0.3px;word-spacing:1px;">4 Sep 16:00</div>
<div class="a" style="left:1212.5px;top:932px;font-size:10px;color:#000;letter-spacing:-0.3px;word-spacing:1px;">6 Sep 00:00</div>
<div class="a" style="left:1276.5px;top:932px;font-size:10px;color:#000;letter-spacing:-0.3px;word-spacing:1px;">9 Sep 08:00</div>
<div class="a" style="left:1340.5px;top:932px;font-size:10px;color:#000;letter-spacing:-0.3px;word-spacing:1px;">10 Sep 16:00</div>
<div class="a" style="left:1630px;top:586px;font-size:10px;color:#000;letter-spacing:-0.45px;">0.2997</div>
<div class="a" style="left:1630px;top:632px;font-size:10px;color:#000;letter-spacing:-0.45px;">0.00</div>
<div class="a" style="left:1630px;top:754px;font-size:10px;color:#000;letter-spacing:-0.45px;">-0.7373</div>
<div class="a" style="left:1630px;top:771px;font-size:10px;color:#000;letter-spacing:-0.45px;">100</div>
<div class="a" style="left:1630px;top:797px;font-size:10px;color:#000;letter-spacing:-0.45px;">80</div>
<div class="a" style="left:1630px;top:844px;font-size:10px;color:#000;letter-spacing:-0.45px;">50</div>
<div class="a" style="left:1630px;top:900px;font-size:10px;color:#000;letter-spacing:-0.45px;">15</div>
<div class="a" style="left:1630px;top:917px;font-size:10px;color:#000;letter-spacing:-0.45px;">0</div>
<div class="a" style="left:2px;top:588px;font-size:10px;color:#000;letter-spacing:-0.3px;">MACD(12,26,9) 0.2525 0.2310</div>
<div class="a" style="left:2px;top:773px;font-size:10px;color:#000;letter-spacing:-0.3px;">RSI(14) 70.6817</div>
<div class="a" style="left:13px;top:32px;font-size:10px;color:#000;letter-spacing:-0.3px;">USDJPY-,H4&nbsp; 107.518 107.574 107.490 107.508</div>
<svg width="10" height="10" style="position:absolute;left:0;top:33px"><path d="M1 5 L4.5 1 L8 5 Z" fill="#000"/></svg>
<div class="a" style="left:1467px;top:189px;font-size:28px;color:#ff0000;letter-spacing:-1.0px;">107.285</div>
<div class="a" style="left:1405px;top:302px;font-size:32px;color:#00ff00;text-shadow:1px 1px 0 #000;letter-spacing:0px;-webkit-text-stroke:0.5px #00ff00;">多空转折点</div>
</body></html>
